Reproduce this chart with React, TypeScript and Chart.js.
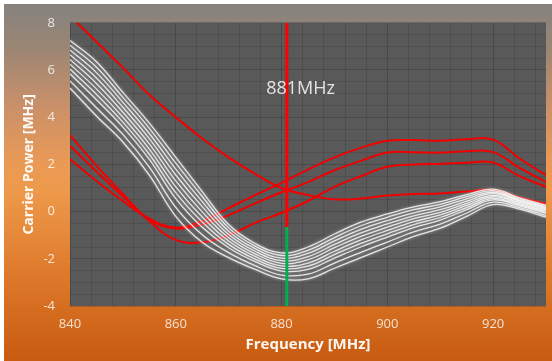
import React, { useEffect, useRef } from "react";
import { Chart, registerables } from "chart.js";

Chart.register(...registerables);

// ---- data ----
const freqs = [840, 845, 850, 855, 860, 865, 870, 875, 880, 885, 890, 895, 900, 905, 910, 915, 920, 925, 930];

const white1 = [7.25, 6.35, 5.05, 3.75, 2.3, 0.85, -0.55, -1.35, -1.75, -1.5, -0.95, -0.45, -0.1, 0.2, 0.42, 0.72, 0.95, 0.58, 0.27];
const white2 = [7.05, 6.12, 4.84, 3.53, 2.05, 0.64, -0.69, -1.46, -1.86, -1.64, -1.1, -0.6, -0.24, 0.08, 0.31, 0.63, 0.89, 0.53, 0.22];
const white3 = [6.85, 5.89, 4.63, 3.31, 1.8, 0.42, -0.83, -1.57, -1.97, -1.77, -1.24, -0.75, -0.38, -0.05, 0.2, 0.54, 0.82, 0.48, 0.17];
const white4 = [6.65, 5.66, 4.42, 3.09, 1.55, 0.21, -0.97, -1.68, -2.08, -1.91, -1.39, -0.9, -0.52, -0.18, 0.08, 0.44, 0.76, 0.44, 0.12];
const white5 = [6.45, 5.43, 4.21, 2.87, 1.3, -0.01, -1.11, -1.79, -2.19, -2.04, -1.53, -1.05, -0.66, -0.3, -0.03, 0.35, 0.69, 0.39, 0.07];
const white6 = [6.25, 5.2, 4.0, 2.65, 1.05, -0.23, -1.25, -1.9, -2.3, -2.18, -1.68, -1.2, -0.8, -0.43, -0.14, 0.26, 0.63, 0.34, 0.02];
const white7 = [6.04, 4.97, 3.79, 2.43, 0.8, -0.44, -1.39, -2.01, -2.41, -2.31, -1.82, -1.35, -0.94, -0.55, -0.25, 0.17, 0.56, 0.29, -0.03];
const white8 = [5.84, 4.74, 3.58, 2.21, 0.55, -0.66, -1.53, -2.12, -2.52, -2.45, -1.97, -1.5, -1.08, -0.68, -0.36, 0.08, 0.5, 0.24, -0.08];
const white9 = [5.54, 4.4, 3.27, 1.88, 0.18, -0.98, -1.74, -2.29, -2.69, -2.65, -2.18, -1.73, -1.29, -0.86, -0.53, -0.06, 0.4, 0.17, -0.16];
const white10 = [5.24, 4.05, 2.95, 1.55, -0.2, -1.3, -1.95, -2.45, -2.85, -2.85, -2.4, -1.95, -1.5, -1.05, -0.7, -0.2, 0.3, 0.1, -0.23];

const redA = [8.3, 7.2, 6.1, 4.95, 4.0, 3.1, 2.3, 1.6, 1.0, 0.7, 0.52, 0.55, 0.68, 0.75, 0.77, 0.85, 0.92, 0.6, 0.33];
const redB = [2.22, 1.3, 0.45, -0.3, -0.68, -0.4, 0.15, 0.7, 1.22, 1.78, 2.3, 2.7, 3.0, 3.03, 3.0, 3.07, 3.05, 2.25, 1.55];
const redC = [2.79, 1.7, 0.65, -0.35, -0.72, -0.55, -0.15, 0.35, 0.82, 1.25, 1.75, 2.15, 2.5, 2.52, 2.5, 2.56, 2.52, 1.85, 1.25];
const redD = [3.24, 1.95, 0.75, -0.4, -1.2, -1.3, -1.0, -0.48, -0.05, 0.45, 1.05, 1.5, 1.9, 2.0, 2.02, 2.07, 2.08, 1.5, 1.05];

const markerFreq = 881;
const markerTop = 8;
const markerSplit = -0.65;
const markerBottom = -4;
const markerLabel = "881MHz";
const markerLabelAt = { x: 883.6, y: 5.2 };

const xTickLabels = [840, 860, 880, 900, 920];
const yTickLabels = [-4, -2, 0, 2, 4, 6, 8];
const xMin = 840, xMax = 930, xMinorStep = 4;
const yMin = -4, yMax = 8, yMinorStep = 0.5;

const whites = [white1, white2, white3, white4, white5, white6, white7, white8, white9, white10];
const reds = [redA, redB, redC, redD];

const toPts = (ys: number[]) => freqs.map((x, i) => ({ x, y: ys[i] }));

const plotBgUnder = {
  id: "plotBgUnder",
  beforeDraw(chart: any) {
    const { ctx, chartArea } = chart;
    ctx.save();
    ctx.fillStyle = "#595959";
    ctx.fillRect(chartArea.left, chartArea.top, chartArea.right - chartArea.left, chartArea.bottom - chartArea.top);
    ctx.restore();
  },
};

const glow = {
  id: "glow",
  beforeDatasetDraw(chart: any, args: any) {
    const ds = chart.data.datasets[args.index];
    chart.ctx.save();
    if (ds.glow) {
      chart.ctx.shadowColor = ds.glow;
      chart.ctx.shadowBlur = 3;
    }
  },
  afterDatasetDraw(chart: any) {
    chart.ctx.restore();
  },
};

const markerText = {
  id: "markerText",
  afterDatasetsDraw(chart: any) {
    const { ctx, scales } = chart;
    ctx.save();
    ctx.font = '18px "Open Sans"';
    ctx.fillStyle = "#e3e3e3";
    ctx.textAlign = "center";
    ctx.textBaseline = "middle";
    ctx.fillText(markerLabel, scales.x.getPixelForValue(markerLabelAt.x), scales.y.getPixelForValue(markerLabelAt.y));
    ctx.restore();
  },
};

export default function App() {
  const ref = useRef<HTMLCanvasElement | null>(null);

  useEffect(() => {
    if (!ref.current) return;
    const xGrid: number[] = [];
    for (let v = xMin; v < xMax; v += xMinorStep) xGrid.push(v);
    const yGrid: number[] = [];
    for (let v = yMin; v <= yMax + 1e-9; v += yMinorStep) yGrid.push(Math.round(v * 10) / 10);

    const datasets: any[] = [
      {
        data: [{ x: markerFreq, y: markerTop }, { x: markerFreq, y: markerSplit }],
        borderColor: "#ff0000",
        borderWidth: 3,
        pointRadius: 0,
        tension: 0,
      },
      {
        data: [{ x: markerFreq, y: markerSplit }, { x: markerFreq, y: markerBottom }],
        borderColor: "#00b050",
        borderWidth: 3,
        pointRadius: 0,
        tension: 0,
      },
      ...whites.map((w) => ({
        data: toPts(w),
        borderColor: "rgba(255,255,255,0.8)",
        borderWidth: 1.3,
        pointRadius: 0,
        tension: 0.4,
        glow: "rgba(255,255,255,0.7)",
      })),
      ...reds.map((r) => ({
        data: toPts(r),
        borderColor: "#f20000",
        borderWidth: 2,
        pointRadius: 0,
        tension: 0.4,
      })),
    ];

    const tickColor = "rgba(255,255,255,0.8)";
    const titleColor = "rgba(255,255,255,0.95)";

    const chart = new Chart(ref.current, {
      type: "line",
      data: { datasets },
      plugins: [plotBgUnder, glow, markerText],
      options: {
        animation: false,
        responsive: false,
        events: [],
        layout: { padding: { top: 22, right: 6, left: 0, bottom: 0 } },
        plugins: { legend: { display: false }, tooltip: { enabled: false } },
        scales: {
          x: {
            type: "linear",
            min: xMin,
            max: xMax,
            afterBuildTicks: (ax: any) => {
              ax.ticks = xGrid.map((v) => ({ value: v }));
            },
            afterFit: (s: any) => {
              s.height = 55;
            },
            border: { display: false },
            grid: {
              drawTicks: false,
              color: (c: any) => (xTickLabels.includes(c.tick?.value) ? "rgba(0,0,0,0.16)" : "rgba(0,0,0,0.1)"),
              lineWidth: 1,
            },
            ticks: {
              autoSkip: false,
              maxRotation: 0,
              padding: 10,
              color: tickColor,
              font: { family: "Open Sans", size: 13 },
              callback: (v: any) => (xTickLabels.includes(Number(v)) ? String(v) : ""),
            },
            title: {
              display: true,
              text: "Frequency [MHz]",
              color: titleColor,
              font: { family: "Open Sans", size: 15, weight: "bold" },
              padding: { top: 0, bottom: 7 },
            },
          },
          y: {
            type: "linear",
            min: yMin,
            max: yMax,
            afterBuildTicks: (ax: any) => {
              ax.ticks = yGrid.map((v) => ({ value: v }));
            },
            afterFit: (s: any) => {
              s.width = 70;
            },
            border: { display: false },
            grid: {
              drawTicks: false,
              color: (c: any) => (yTickLabels.includes(c.tick?.value) ? "rgba(0,0,0,0.16)" : "rgba(0,0,0,0.1)"),
              lineWidth: 1,
            },
            ticks: {
              autoSkip: false,
              padding: 15,
              color: tickColor,
              font: { family: "Open Sans", size: 13 },
              callback: (v: any) => (yTickLabels.includes(Number(v)) ? String(v) : ""),
            },
            title: {
              display: true,
              text: "Carrier Power [MHz]",
              color: titleColor,
              font: { family: "Open Sans", size: 14, weight: "bold" },
              padding: { top: 21, bottom: 0 },
            },
          },
        },
      } as any,
    });
    return () => chart.destroy();
  }, []);

  return (
    <div style={{ position: "absolute", left: 0, top: 0, width: 552, height: 361, background: "#ffffff", overflow: "hidden" }}>
      <div
        style={{
          position: "absolute",
          left: 4,
          top: 4,
          right: 0,
          bottom: 0,
          background:
            "linear-gradient(to bottom, #85827f 0%, #9a8674 12%, #c8906a 28%, #eb9a55 45%, #ee9a4c 52%, #df7a2c 75%, #c75b10 100%)",
        }}
      />
      <canvas ref={ref} width={552} height={361} style={{ position: "absolute", left: 0, top: 0, width: 552, height: 361 }} />
    </div>
  );
}
